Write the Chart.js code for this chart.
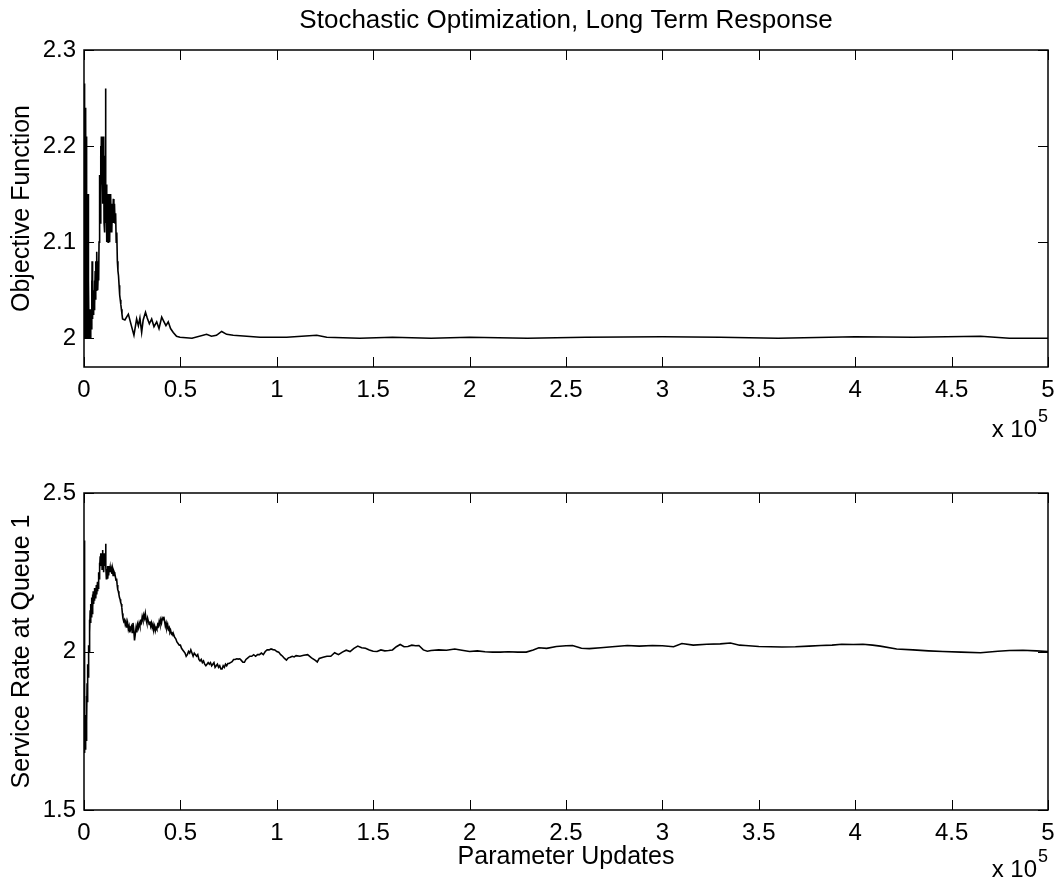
<!DOCTYPE html>
<html>
<head>
<meta charset="utf-8">
<title>Stochastic Optimization, Long Term Response</title>
<script src="https://cdn.jsdelivr.net/npm/chart.js@4.4.0/dist/chart.umd.min.js"></script>
<style>
  body { margin: 0; background: #fff; }
  #wrap { position: relative; width: 1062px; height: 888px; }
  canvas { position: absolute; left: 0; }
</style>
</head>
<body>
<div id="wrap">
  <canvas id="objChart" width="1062" height="440" style="top:0"></canvas>
  <canvas id="svcChart" width="1062" height="448" style="top:440px"></canvas>
</div>
<script>
const FONT = '"Liberation Sans", Arial, Helvetica, sans-serif';

// x values are in units of 10^5 parameter updates
const xTicks = [0, 0.5, 1, 1.5, 2, 2.5, 3, 3.5, 4, 4.5, 5];
const objTicks = [2, 2.1, 2.2, 2.3];
const svcTicks = [1.5, 2, 2.5];

// top panel: objective function
const objX = [
  0, 0.001, 0.002, 0.003, 0.004, 0.005, 0.006, 0.007, 0.008, 0.009,
  0.010, 0.011, 0.012, 0.013, 0.014, 0.015, 0.016, 0.017, 0.018, 0.019,
  0.020, 0.021, 0.022, 0.023, 0.024, 0.026, 0.028, 0.030, 0.032, 0.034,
  0.036, 0.038, 0.040, 0.041, 0.042, 0.043, 0.044, 0.045, 0.046, 0.048,
  0.050, 0.052, 0.054, 0.056, 0.058, 0.060, 0.062, 0.064, 0.066, 0.068,
  0.070, 0.072, 0.074, 0.076, 0.078, 0.080, 0.082, 0.084, 0.086, 0.088,
  0.090, 0.092, 0.094, 0.096, 0.098, 0.100, 0.102, 0.104, 0.106, 0.108,
  0.110, 0.112, 0.113, 0.115, 0.117, 0.119, 0.121, 0.123, 0.125, 0.127,
  0.129, 0.131, 0.133, 0.135, 0.137, 0.139, 0.141, 0.143, 0.145, 0.147,
  0.149, 0.152, 0.155, 0.158, 0.161, 0.164, 0.167, 0.170, 0.173, 0.176,
  0.179, 0.182, 0.185, 0.188, 0.191, 0.194, 0.197, 0.200, 0.212, 0.230,
  0.247, 0.259, 0.273, 0.282, 0.290, 0.299, 0.307, 0.319, 0.328, 0.339,
  0.351, 0.363, 0.377, 0.389, 0.403, 0.415, 0.425, 0.437, 0.449, 0.463,
  0.480, 0.498, 0.560, 0.636, 0.661, 0.687, 0.714, 0.740, 0.774, 0.844,
  0.913, 1.051, 1.207, 1.259, 1.430, 1.600, 1.800, 2.000, 2.300, 2.600,
  3.000, 3.300, 3.600, 4.000, 4.300, 4.650, 4.800, 5.000
];
const objY = [
  2.265, 2.01, 2.26, 2.00, 2.25, 2.02, 2.24, 2.00, 2.20, 2.04,
  2.23, 2.00, 2.21, 2.05, 2.18, 2.00, 2.15, 2.03, 2.14, 2.00,
  2.10, 2.02, 2.15, 2.00, 2.06, 2.00, 2.03, 2.00, 2.02, 2.00,
  2.03, 2.01, 2.06, 2.02, 2.08, 2.03, 2.07, 2.02, 2.06, 2.025,
  2.05, 2.03, 2.06, 2.035, 2.07, 2.04, 2.08, 2.05, 2.09, 2.06,
  2.08, 2.05, 2.07, 2.06, 2.10, 2.13, 2.17, 2.12, 2.20, 2.15,
  2.21, 2.16, 2.21, 2.14, 2.20, 2.15, 2.21, 2.12, 2.19, 2.11,
  2.17, 2.26, 2.12, 2.16, 2.10, 2.15, 2.11, 2.15, 2.10, 2.14,
  2.11, 2.15, 2.10, 2.14, 2.11, 2.15, 2.12, 2.14, 2.11, 2.14,
  2.12, 2.145, 2.12, 2.14, 2.12, 2.13, 2.10, 2.11, 2.08, 2.07,
  2.065, 2.055, 2.045, 2.04, 2.035, 2.03, 2.025, 2.02, 2.019, 2.025,
  2.012, 2.003, 2.02, 2.013, 2.021, 2.006, 2.019, 2.027, 2.021, 2.015,
  2.02, 2.012, 2.017, 2.010, 2.022, 2.017, 2.013, 2.017, 2.010, 2.006,
  2.002, 2.001, 2.000, 2.004, 2.002, 2.003, 2.007, 2.004, 2.003, 2.002,
  2.001, 2.001, 2.003, 2.001, 2.000, 2.001, 2.000, 2.001, 2.000, 2.001,
  2.0015, 2.001, 2.000, 2.0015, 2.001, 2.002, 2.000, 2.000
];

// bottom panel: service rate at queue 1
const svcX = [
  0, 0.001, 0.002, 0.003, 0.004, 0.005, 0.006, 0.007, 0.008, 0.009,
  0.010, 0.011, 0.012, 0.013, 0.014, 0.015, 0.016, 0.018, 0.020, 0.022,
  0.024, 0.026, 0.028, 0.030, 0.032, 0.034, 0.036, 0.038, 0.040, 0.042,
  0.044, 0.046, 0.048, 0.050, 0.052, 0.054, 0.056, 0.058, 0.060, 0.062,
  0.064, 0.066, 0.068, 0.070, 0.072, 0.074, 0.076, 0.078, 0.080, 0.082,
  0.084, 0.086, 0.088, 0.090, 0.092, 0.094, 0.096, 0.098, 0.100, 0.102,
  0.104, 0.106, 0.108, 0.110, 0.112, 0.114, 0.116, 0.118, 0.120, 0.122,
  0.124, 0.126, 0.128, 0.130, 0.133, 0.136, 0.139, 0.142, 0.145, 0.148,
  0.151, 0.154, 0.157, 0.160, 0.163, 0.166, 0.169, 0.172, 0.175, 0.178,
  0.181, 0.184, 0.187, 0.190, 0.193, 0.196, 0.199, 0.202, 0.206, 0.210,
  0.214, 0.218, 0.222, 0.226, 0.230, 0.234, 0.238, 0.242, 0.246, 0.250,
  0.254, 0.258, 0.262, 0.266, 0.270, 0.274, 0.278, 0.282, 0.286, 0.290,
  0.294, 0.298, 0.302, 0.306, 0.310, 0.314, 0.318, 0.322, 0.326, 0.330,
  0.334, 0.338, 0.342, 0.346, 0.350, 0.354, 0.358, 0.362, 0.366, 0.370,
  0.374, 0.378, 0.382, 0.386, 0.390, 0.394, 0.398, 0.402, 0.406, 0.410,
  0.414, 0.418, 0.422, 0.426, 0.430, 0.434, 0.438, 0.442, 0.446, 0.450,
  0.454, 0.458, 0.462, 0.466, 0.470, 0.476, 0.482, 0.488, 0.494, 0.500,
  0.506, 0.512, 0.518, 0.524, 0.530, 0.536, 0.542, 0.548, 0.554, 0.560,
  0.566, 0.572, 0.578, 0.584, 0.590, 0.596, 0.602, 0.608, 0.614, 0.620,
  0.626, 0.632, 0.638, 0.644, 0.650, 0.656, 0.662, 0.668, 0.674, 0.680,
  0.686, 0.692, 0.698, 0.704, 0.710, 0.716, 0.722, 0.728, 0.734, 0.740,
  0.746, 0.752, 0.760, 0.768, 0.776, 0.784, 0.792, 0.800, 0.808, 0.816,
  0.824, 0.832, 0.840, 0.850, 0.860, 0.870, 0.880, 0.890, 0.900, 0.910,
  0.920, 0.930, 0.940, 0.950, 0.960, 0.970, 0.980, 0.990, 1.000, 1.010,
  1.020, 1.030, 1.040, 1.050, 1.060, 1.070, 1.080, 1.090, 1.100, 1.120,
  1.140, 1.160, 1.180, 1.200, 1.210, 1.220, 1.240, 1.260, 1.280, 1.300,
  1.320, 1.340, 1.360, 1.380, 1.400, 1.420, 1.440, 1.460, 1.480, 1.500,
  1.520, 1.540, 1.560, 1.580, 1.600, 1.620, 1.640, 1.660, 1.680, 1.700,
  1.720, 1.737, 1.760, 1.781, 1.800, 1.840, 1.880, 1.923, 1.960, 2.000,
  2.040, 2.080, 2.119, 2.160, 2.200, 2.250, 2.294, 2.330, 2.359, 2.400,
  2.450, 2.500, 2.534, 2.580, 2.621, 2.680, 2.740, 2.818, 2.880, 2.948,
  3.000, 3.058, 3.101, 3.160, 3.230, 3.300, 3.353, 3.400, 3.430, 3.500,
  3.560, 3.620, 3.690, 3.760, 3.822, 3.880, 3.930, 3.990, 4.040, 4.090,
  4.130, 4.215, 4.300, 4.380, 4.455, 4.550, 4.650, 4.740, 4.800, 4.870,
  4.940, 5.000
];
const svcY = [
  2.35, 2.25, 1.90, 1.70, 1.75, 1.68, 1.78, 1.69, 1.76, 1.70,
  1.80, 1.72, 1.82, 1.75, 1.86, 1.78, 1.90, 1.84, 1.96, 1.92,
  2.02, 2.00, 2.10, 2.06, 2.13, 2.09, 2.15, 2.11, 2.17, 2.12,
  2.18, 2.14, 2.19, 2.15, 2.18, 2.16, 2.20, 2.17, 2.19, 2.17,
  2.21, 2.18, 2.20, 2.19, 2.22, 2.20, 2.25, 2.23, 2.28, 2.26,
  2.30, 2.27, 2.31, 2.28, 2.31, 2.26, 2.32, 2.27, 2.30, 2.25,
  2.31, 2.27, 2.30, 2.28, 2.34, 2.27, 2.23, 2.26, 2.24, 2.27,
  2.23, 2.26, 2.24, 2.27, 2.25, 2.265, 2.25, 2.26, 2.245, 2.26,
  2.24, 2.255, 2.25, 2.245, 2.235, 2.225, 2.23, 2.21, 2.195, 2.19,
  2.18, 2.17, 2.165, 2.155, 2.15, 2.14, 2.12, 2.105, 2.095, 2.10,
  2.085, 2.095, 2.075, 2.09, 2.07, 2.08, 2.06, 2.075, 2.08, 2.06,
  2.09, 2.07, 2.035, 2.055, 2.075, 2.06, 2.085, 2.075, 2.09, 2.08,
  2.095, 2.09, 2.11, 2.10, 2.115, 2.105, 2.12, 2.10, 2.09, 2.105,
  2.095, 2.085, 2.095, 2.08, 2.09, 2.075, 2.085, 2.07, 2.08, 2.065,
  2.075, 2.07, 2.085, 2.08, 2.095, 2.085, 2.10, 2.09, 2.105, 2.10,
  2.11, 2.095, 2.08, 2.09, 2.075, 2.085, 2.07, 2.075, 2.06, 2.065,
  2.055, 2.058, 2.05, 2.052, 2.045, 2.04, 2.03, 2.025, 2.02, 2.02,
  2.01, 2.005, 2.0, 1.995, 1.985, 1.99, 2.0, 1.995, 2.005, 1.995,
  1.985, 1.995, 1.99, 1.985, 1.99, 1.975, 1.97, 1.975, 1.965, 1.97,
  1.96, 1.955, 1.96, 1.965, 1.96, 1.965, 1.955, 1.96, 1.965, 1.95,
  1.955, 1.96, 1.95, 1.955, 1.945, 1.945, 1.955, 1.95, 1.96, 1.955,
  1.962, 1.962, 1.965, 1.968, 1.975, 1.975, 1.977, 1.976, 1.977, 1.972,
  1.966, 1.966, 1.975, 1.98, 1.985, 1.985, 1.99, 1.985, 1.99, 1.99,
  1.995, 1.99, 2.0, 2.005, 2.005, 2.008, 2.006, 2.005, 2.0, 1.998,
  1.99, 1.985, 1.978, 1.973, 1.98, 1.982, 1.985, 1.983, 1.987, 1.985,
  1.988, 1.99, 1.98, 1.972, 1.967, 1.978, 1.982, 1.985, 1.985, 1.996,
  1.99, 1.998, 2.004, 2.0, 2.01, 2.017, 2.012, 2.01, 2.005, 2.001,
  2.0, 2.005, 2.002, 2.003, 2.005, 2.015, 2.022, 2.015, 2.016, 2.02,
  2.018, 2.019, 2.005, 2.001, 2.003, 2.005, 2.004, 2.008, 2.004, 2.0,
  2.002, 1.999, 1.998, 1.998, 1.999, 1.998, 1.998, 2.005, 2.012, 2.01,
  2.016, 2.018, 2.019, 2.01, 2.009, 2.012, 2.015, 2.019, 2.017, 2.019,
  2.018, 2.015, 2.025, 2.02, 2.023, 2.024, 2.027, 2.02, 2.019, 2.016,
  2.015, 2.014, 2.015, 2.017, 2.019, 2.02, 2.023, 2.022, 2.023, 2.02,
  2.017, 2.008, 2.005, 2.002, 2.0, 1.998, 1.996, 2.001, 2.003, 2.004,
  2.002, 2.0
];

// draws the MATLAB style box, inward tick marks and the "x 10^5" exponent
const boxAndTicks = {
  id: 'boxAndTicks',
  afterDraw(chart, args, opts) {
    const { ctx, chartArea: a, scales: { x, y } } = chart;
    ctx.save();
    ctx.strokeStyle = '#000';
    ctx.lineWidth = 1;
    ctx.beginPath();
    x.ticks.forEach(t => {
      const px = Math.round(x.getPixelForValue(t.value)) + 0.5;
      ctx.moveTo(px, a.bottom); ctx.lineTo(px, a.bottom - 10);
      ctx.moveTo(px, a.top); ctx.lineTo(px, a.top + 10);
    });
    y.ticks.forEach(t => {
      const py = Math.round(y.getPixelForValue(t.value)) + 0.5;
      ctx.moveTo(a.left, py); ctx.lineTo(a.left + 10, py);
      ctx.moveTo(a.right, py); ctx.lineTo(a.right - 10, py);
    });
    ctx.stroke();

    ctx.lineWidth = 1.5;
    ctx.strokeRect(a.left, a.top, a.right - a.left, a.bottom - a.top);

    ctx.fillStyle = '#000';
    ctx.textAlign = 'right';
    ctx.textBaseline = 'alphabetic';
    ctx.font = '24px ' + FONT;
    ctx.fillText('x 10', a.right - 11, a.bottom + opts.expOffset);
    ctx.font = '18px ' + FONT;
    ctx.fillText('5', a.right, a.bottom + opts.expOffset - 15);
    ctx.restore();
  }
};

function makeChart(id, xs, ys, yTicks, yMin, yMax, yLabel, opts) {
  const points = xs.map((v, i) => ({ x: v, y: ys[i] }));
  const tickFont = { size: 24, family: FONT };
  const labelFont = { size: 25, family: FONT, lineHeight: 1.2 };

  return new Chart(document.getElementById(id), {
    type: 'line',
    data: {
      datasets: [{
        data: points,
        borderColor: '#000',
        borderWidth: 1.6,
        pointRadius: 0,
        tension: 0,
        fill: false
      }]
    },
    options: {
      responsive: false,
      animation: false,
      devicePixelRatio: 1,
      layout: { padding: { top: opts.padTop, right: 14, bottom: 0, left: 0 } },
      plugins: {
        legend: { display: false },
        tooltip: { enabled: false },
        title: opts.title ? {
          display: true,
          text: opts.title,
          color: '#000',
          fullSize: false,
          font: { size: 26, family: FONT, weight: 'normal', lineHeight: 1.2 },
          padding: { top: 5, bottom: 13.8 }
        } : { display: false },
        boxAndTicks: { expOffset: opts.expOffset }
      },
      scales: {
        x: {
          type: 'linear',
          min: 0,
          max: 5,
          afterBuildTicks: s => { s.ticks = xTicks.map(v => ({ value: v })); },
          afterFit: s => { s.height = opts.xHeight; s.paddingLeft = 0; s.paddingRight = 0; },
          grid: { display: false, drawTicks: false },
          border: { display: false },
          ticks: {
            color: '#000', font: tickFont, padding: 9,
            maxRotation: 0, autoSkip: false,
            callback: v => String(v)
          },
          title: opts.xLabel ? {
            display: true,
            text: opts.xLabel,
            color: '#000',
            font: labelFont,
            padding: { top: 0, bottom: 15.5 }
          } : { display: false }
        },
        y: {
          type: 'linear',
          min: yMin,
          max: yMax,
          afterBuildTicks: s => { s.ticks = yTicks.map(v => ({ value: v })); },
          afterFit: s => { s.width = 84; },
          grid: { display: false, drawTicks: false },
          border: { display: false },
          ticks: { color: '#000', font: tickFont, padding: 8, callback: v => String(v) },
          title: {
            display: true,
            text: yLabel,
            color: '#000',
            font: labelFont,
            padding: { top: 7, bottom: 0 }
          }
        }
      }
    },
    plugins: [boxAndTicks]
  });
}

makeChart('objChart', objX, objY, objTicks, 1.97, 2.3, 'Objective Function', {
  title: 'Stochastic Optimization, Long Term Response',
  padTop: 0,
  xHeight: 73,
  expOffset: 70
});

makeChart('svcChart', svcX, svcY, svcTicks, 1.5, 2.5, 'Service Rate at Queue 1', {
  xLabel: 'Parameter Updates',
  padTop: 53,
  xHeight: 78,
  expOffset: 67
});
</script>
</body>
</html>
